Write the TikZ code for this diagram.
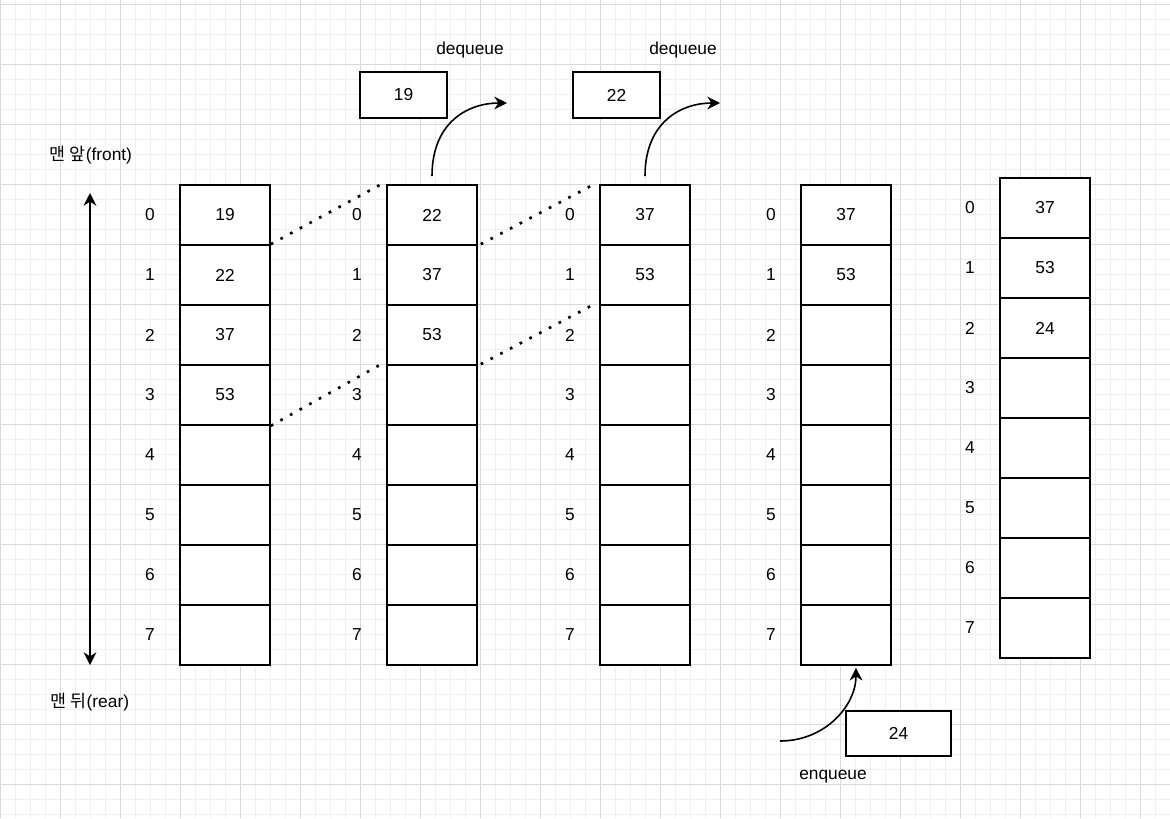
\documentclass[tikz,border=0pt]{standalone}
\usepackage{fontspec}
\setmainfont{Liberation Sans}
\newfontfamily\krfont{Noto Sans CJK KR}
\usetikzlibrary{arrows.meta}
\usetikzlibrary{positioning}
\definecolor{minorline}{HTML}{F0F0F0}
\definecolor{majorline}{HTML}{D9D9D9}

\begin{document}
\begin{tikzpicture}[x=0.75pt, y=-0.75pt, >={Stealth[length=9.5pt, width=9.5pt, inset=3pt]}, line width=1.2pt,
                    font=\fontsize{13}{15.6}\selectfont,                                  % pixel units, draw.io look
                    cell/.style = {draw=black, fill=white, minimum width=67.5pt, minimum height=45pt, inner sep=0pt},
                    idx/.style = {inner sep=0pt},
                    popped/.style = {draw=black, fill=white, minimum width=65.25pt, minimum height=34.5pt, inner sep=0pt},
                    pushed/.style = {draw=black, fill=white, minimum width=78.75pt, minimum height=33.75pt, inner sep=0pt},
                    shiftline/.style = {line width=2pt, dash pattern=on 2pt off 6.25pt}]   % dotted moves
        \useasboundingbox (0,0) rectangle (1170,818);
        \clip (0,0) rectangle (1170,818);
        %background grid
        \fill[white] (0,0) rectangle (1170,818);
        \foreach \x in {0,15,...,1170} \draw[minorline, line width=0.75pt] (\x,0) -- (\x,818);
        \foreach \y in {4,19,...,818} \draw[minorline, line width=0.75pt] (0,\y) -- (1170,\y);
        \foreach \x in {0,60,...,1170} \draw[majorline, line width=0.75pt] (\x,0) -- (\x,818);
        \foreach \y in {4,64,...,818} \draw[majorline, line width=0.75pt] (0,\y) -- (1170,\y);
        %queues
        \foreach \c/\x/\y in {1/225/215, 2/432/215, 3/645/215, 4/846/215, 5/1045/208}
            \foreach \r in {0,...,7} {
                \node[cell] (c\c-\r) at (\x, \y+60*\r) {};
                \node[idx] (i\c-\r) [on grid, left=56.25pt of c\c-\r] {\r};
            }
        \foreach \c/\r/\v in {1/0/19, 1/1/22, 1/2/37, 1/3/53, 2/0/22, 2/1/37, 2/2/53, 3/0/37, 3/1/53,
                              4/0/37, 4/1/53, 5/0/37, 5/1/53, 5/2/24}
            \node (v\c-\r) at (c\c-\r) {\v};
        %front and rear
        \node (front) at (91,155) {{\krfont 맨 앞}(front)};
        \node (rear) at (90,702) {{\krfont 맨 뒤}(rear)};
        \coordinate (top) at (90,193);
        \coordinate (bot) at (90,665);
        \draw[<->] (top) -- (bot);
        %dequeue
        \node[popped] (out19) at (403.5,95) {19};
        \node[popped] (out22) at (616.5,95) {22};
        \node (deq1) at (470,50) {dequeue};
        \node (deq2) at (683,50) {dequeue};
        \coordinate (gone1) at (507,103);
        \coordinate (gone2) at (720,103);
        \draw[->] ([yshift=6pt]c2-0.north) .. controls +(0,-55) and +(-38,0) .. (gone1);
        \draw[->] ([yshift=6pt]c3-0.north) .. controls +(0,-55) and +(-38,0) .. (gone2);
        %shift up
        \draw[shiftline] (c1-1.north east) -- ([xshift=-3.75pt]c2-0.north west);
        \draw[shiftline] (c1-3.south east) -- ([xshift=-3.75pt]c2-3.north west);
        \draw[shiftline] ([xshift=2.25pt]c2-1.north east) -- ([xshift=-3.75pt]c3-0.north west);
        \draw[shiftline] ([xshift=2.25pt]c2-3.north east) -- ([xshift=-3.75pt]c3-2.north west);
        %enqueue
        \node[pushed] (in24) at (898.5,733.5) {24};
        \node (enq) at (833,777) {enqueue};
        \coordinate (new) at (780,741);
        \draw[->] (new) .. controls +(45,0) and +(0,38) .. ([xshift=7.5pt,yshift=-1.5pt]c4-7.south);
    \end{tikzpicture}
\end{document}
